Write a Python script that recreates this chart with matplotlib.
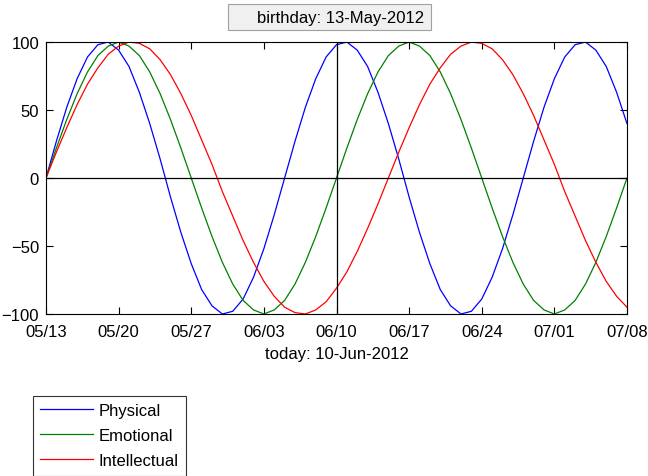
import matplotlib
matplotlib.use("Agg")
import matplotlib.pyplot as plt
import matplotlib.dates as mdates
from matplotlib.patches import Rectangle
import pandas as pd

plt.rcParams['font.family'] = ['Liberation Sans', 'DejaVu Sans']

birthday = "13-May-2012"
today = "10-Jun-2012"
dates = pd.date_range("2012-05-13", "2012-07-08", freq="D")

physical = [0, 27, 52, 73, 89, 98, 100, 94, 82, 63, 40, 14, -14, -40, -63, -82, -94, -100, -98, -89, -73, -52, -27, 0, 27, 52, 73, 89, 98, 100, 94, 82, 63, 40, 14, -14, -40, -63, -82, -94, -100, -98, -89, -73, -52, -27, 0, 27, 52, 73, 89, 98, 100, 94, 82, 63, 40]
emotional = [0, 22, 43, 62, 78, 90, 97, 100, 97, 90, 78, 62, 43, 22, 0, -22, -43, -62, -78, -90, -97, -100, -97, -90, -78, -62, -43, -22, 0, 22, 43, 62, 78, 90, 97, 100, 97, 90, 78, 62, 43, 22, 0, -22, -43, -62, -78, -90, -97, -100, -97, -90, -78, -62, -43, -22, 0]
intellectual = [0, 19, 37, 54, 69, 81, 91, 97, 100, 99, 95, 87, 76, 62, 46, 28, 10, -10, -28, -46, -62, -76, -87, -95, -99, -100, -97, -91, -81, -69, -54, -37, -19, 0, 19, 37, 54, 69, 81, 91, 97, 100, 99, 95, 87, 76, 62, 46, 28, 10, -10, -28, -46, -62, -76, -87, -95]

series_names = ["Physical", "Emotional", "Intellectual"]
colors = ["#0000ff", "#008000", "#ff0000"]
yticks = [-100, -50, 0, 50, 100]

W, H = 648, 477
fig = plt.figure(figsize=(W / 100, H / 100), dpi=100)
ax = fig.add_axes([46 / W, 1 - 315 / H, (627 - 46) / W, (315 - 43) / H])

lines = []
for vals, name, c in zip([physical, emotional, intellectual], series_names, colors):
    ln, = ax.plot(dates, vals, color=c, lw=0.9, label=name)
    lines.append(ln)

ax.axhline(0, color="black", lw=0.9)
ax.axvline(pd.Timestamp("2012-06-10"), color="black", lw=0.9)

ax.set_xlim(dates[0], dates[-1])
ax.set_ylim(-100, 100)
ax.set_yticks(yticks)
ax.set_xticks(dates[::7])
ax.xaxis.set_major_formatter(mdates.DateFormatter("%m/%d"))
ax.tick_params(direction="in", length=5, width=0.8, top=True, right=True, labelsize=12, colors="black")
ax.tick_params(axis="x", pad=7)
ax.tick_params(axis="y", pad=5)
for s in ax.spines.values():
    s.set_linewidth(0.8)
    s.set_color("black")

ax.set_xlabel("today: " + today, fontsize=12)
ax.xaxis.set_label_coords(0.5, -(347 - 315) / 272)
ax.xaxis.label.set_va("top")

# title box
fig.patches.append(Rectangle((228 / W, 1 - 31 / H), (431 - 228) / W, 26 / H,
                             transform=fig.transFigure, facecolor="#f0f0f0",
                             edgecolor="#a0a0a0", lw=0.8))
fig.text(341 / W, 1 - 18 / H, "birthday: " + birthday, ha="center", va="center", fontsize=12)

leg = fig.legend(handles=lines, loc="upper left", bbox_to_anchor=(32.5 / W, 1 - 396.5 / H),
                 bbox_transform=fig.transFigure, fontsize=12, frameon=True, fancybox=False,
                 edgecolor="black", borderaxespad=0, handlelength=3.2, handletextpad=0.3,
                 labelspacing=0.6, borderpad=0.45)
leg.get_frame().set_linewidth(0.8)

fig.savefig("out.png", dpi=100)
